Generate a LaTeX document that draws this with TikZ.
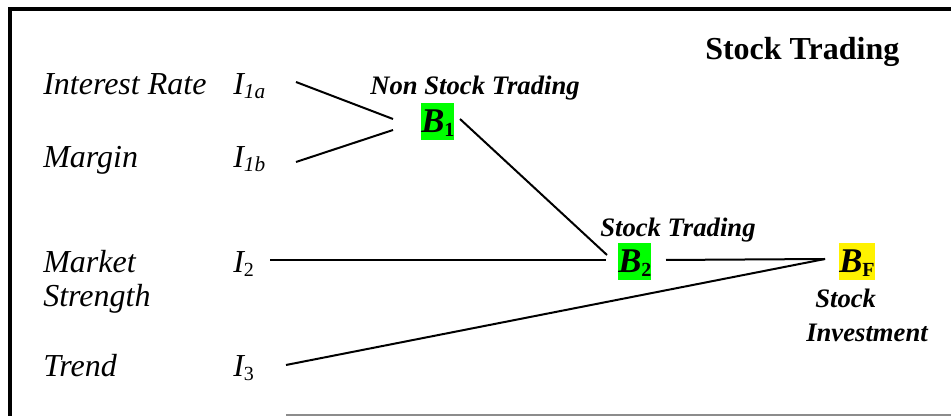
\documentclass[tikz,border=0pt]{standalone}
\usepackage{fontspec}
\setmainfont{Liberation Serif}
\begin{document}
\begin{tikzpicture}[x=0.75pt,y=-0.75pt,
  lbl/.style={anchor=base west,inner sep=0pt,font=\fontsize{24}{24}\selectfont\itshape},
  captxt/.style={anchor=base west,inner sep=0pt,font=\fontsize{20}{20}\selectfont\bfseries\itshape},
  bbox/.style={anchor=base west,inner xsep=0pt,inner ysep=0pt,text height=22.5pt,text depth=5.25pt},
  conn/.style={line width=1.5pt}]
\useasboundingbox (0,0) rectangle (951,416);
% frame
\draw[line width=2.4pt] (10,416) -- (10,9) -- (951,9);
\draw[line width=0.9pt,black!45] (286,415) -- (951,415);
% title
\node[anchor=base west,inner sep=0pt,font=\fontsize{24}{24}\selectfont\bfseries] (title) at (705,60) {Stock Trading};
% left labels
\node[lbl] (ir) at (43,95) {Interest Rate};
\node[lbl] (mg) at (43,168) {Margin};
\node[lbl] (mk) at (43,273) {Market};
\node[lbl] (st) at (43,307) {Strength};
\node[lbl] (tr) at (43,377) {Trend};
% I labels
\node[lbl] (i1a) at (233,95) {I\raisebox{-3pt}{\fontsize{16}{16}\selectfont 1a}};
\node[lbl] (i1b) at (233,168) {I\raisebox{-3pt}{\fontsize{16}{16}\selectfont 1b}};
\node[lbl] (i2) at (233,273) {I\raisebox{-3pt}{\fontsize{15}{15}\selectfont\upshape 2}};
\node[lbl] (i3) at (233,377) {I\raisebox{-3pt}{\fontsize{15}{15}\selectfont\upshape 3}};
% B boxes
\node[bbox,fill={rgb,255:red,0;green,255;blue,0}] (b1) at (421,133)
  {\fontsize{26}{26}\selectfont\bfseries\itshape B\raisebox{-3pt}{\fontsize{15}{15}\selectfont\upshape 1}};
\node[bbox,fill={rgb,255:red,0;green,255;blue,0}] (b2) at (618,273)
  {\fontsize{26}{26}\selectfont\bfseries\itshape B\raisebox{-3pt}{\fontsize{15}{15}\selectfont\upshape 2}};
\node[bbox,fill=yellow] (bf) at (839,273)
  {\fontsize{26}{26}\selectfont\bfseries\itshape B\raisebox{-3pt}{\fontsize{15}{15}\selectfont\upshape F}};
% captions
\node[captxt] (nst) at (370,95) {Non Stock Trading};
\node[captxt] (stt) at (600,237) {Stock Trading};
\node[captxt] (sk) at (815,308) {Stock};
\node[captxt] (inv) at (806,342) {Investment};
% connector end points
\coordinate (c1a) at (296,82);
\coordinate (j1a) at (393,119);
\coordinate (c1b) at (296,162);
\coordinate (j1b) at (393,130);
\coordinate (b1out) at (460,119);
\coordinate (b2in) at (607,255);
\coordinate (i2out) at (270,260);
\coordinate (b2l) at (606,260);
\coordinate (b2out) at (666,260);
\coordinate (bfin) at (825,259);
\coordinate (i3out) at (286,365);
% connectors
\draw[conn] (c1a) -- (j1a);
\draw[conn] (c1b) -- (j1b);
\draw[conn] (b1out) -- (b2in);
\draw[conn] (i2out) -- (b2l);
\draw[conn] (b2out) -- (bfin);
\draw[conn] (i3out) -- (bfin);
\end{tikzpicture}
\end{document}
